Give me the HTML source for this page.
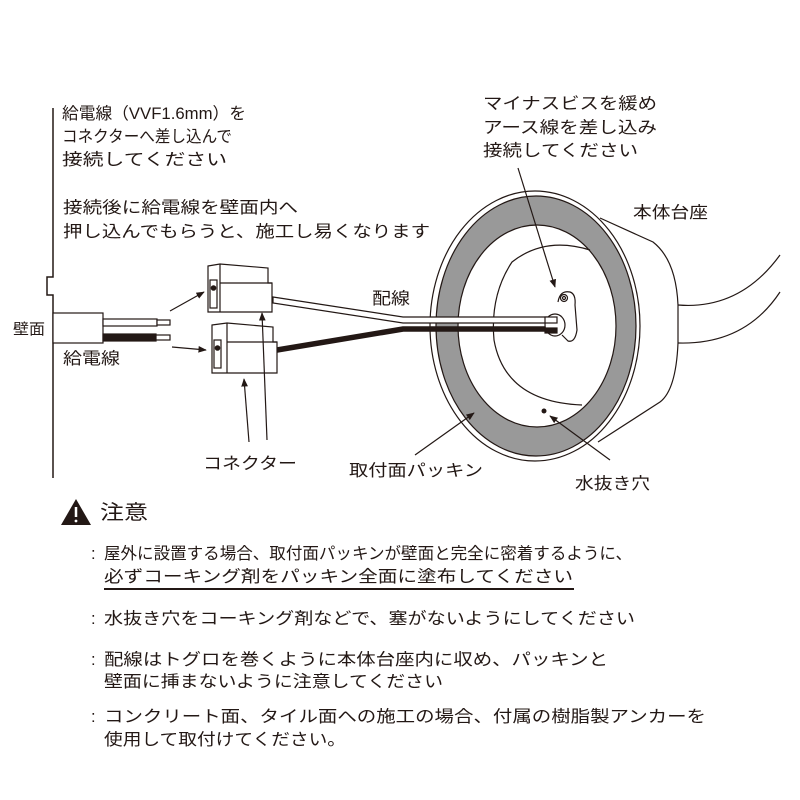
<!DOCTYPE html>
<html><head><meta charset="utf-8"><style>
html,body{margin:0;padding:0;background:#fff;}
svg{display:block;}
text{font-family:"Liberation Sans","Noto Sans CJK JP",sans-serif;fill:#231815;}
</style></head><body>
<svg width="800" height="800" viewBox="0 0 800 800" xmlns="http://www.w3.org/2000/svg">
<defs><marker id="ah" viewBox="0 0 10 10" refX="9" refY="5" markerWidth="7" markerHeight="7" orient="auto"><path d="M0,1 L10,5 L0,9 z" fill="#231815"/></marker></defs>
<g stroke="#231815" fill="none" stroke-width="1.2">
<path d="M53,108 V277 H47 V295 H53 V478" stroke-width="1.5"/>
<rect x="53" y="313" width="50" height="30" fill="#fff"/>
<rect x="103" y="319" width="54" height="7" fill="#fff"/>
<rect x="157" y="320" width="13" height="5" fill="#fff"/>
<rect x="103" y="334" width="53" height="7" fill="#231815"/>
<rect x="156" y="335" width="14" height="5" fill="#fff"/>
<path d="M600,218 L653,242 Q676,260 678,305 L678,343 Q676,390 660,402 L598,442" fill="#fff"/>
<path d="M678,305 Q740,310 780,255"/>
<path d="M678,343 Q745,345 780,292"/>
<ellipse cx="535" cy="326" rx="105" ry="135" fill="#fff"/>
<ellipse cx="536" cy="326" rx="100" ry="130" fill="#999"/>
<ellipse cx="537" cy="326" rx="79" ry="101" fill="#fff"/>
<path d="M590,250 Q545,236 512,262 Q490,295 494,340 Q505,402 582,405"/>
<path d="M273,297 L403,317 L560,317 L560,323 L403,323 L273,303 z" fill="#fff"/>
<path d="M277,350 L403,329 L558,329" stroke-width="5.5"/>
<path d="M558,302 Q560,290 570,292 Q576,294 575,305 L577,330 Q575,343 568,341 L562,335" fill="#fff"/>
<circle cx="564" cy="298" r="3.5" fill="#fff"/>
<circle cx="564" cy="298" r="1.5"/>
<ellipse cx="555" cy="325" rx="10" ry="11" fill="#fff"/>
<rect x="545" y="317" width="12" height="6" fill="#fff"/>
<rect x="545" y="328" width="12" height="5" fill="#231815"/>
<circle cx="544" cy="411" r="2.5" fill="#231815" stroke="none"/>
<path d="M208,266 L220,264 L268,268 L268,283 L272,283 L272,312 L208,312 z" fill="#fff"/>
<path d="M220,264 V312 M220,283 H272"/>
<rect x="210" y="280" width="7" height="28" fill="#fff"/>
<circle cx="213.5" cy="288" r="2.2" fill="#231815"/>
<path d="M212,325 L227,323 L273,327 L273,342 L277,342 L277,373 L212,373 z" fill="#fff"/>
<path d="M227,323 V373 M227,342 H277"/>
<rect x="214" y="340" width="7" height="28" fill="#fff"/>
<circle cx="217.5" cy="348" r="2.2" fill="#231815"/>
<g marker-end="url(#ah)" stroke-width="1.2">
<line x1="170" y1="311" x2="204" y2="292"/>
<line x1="172" y1="347" x2="206" y2="350"/>
<line x1="249" y1="442" x2="244" y2="379"/>
<line x1="267" y1="440" x2="262" y2="313"/>
<line x1="518" y1="168" x2="555" y2="287"/>
<line x1="415" y1="455" x2="474" y2="413"/>
<line x1="610" y1="460" x2="550" y2="416"/>
</g>
<line x1="104" y1="589" x2="574" y2="589" stroke-width="2"/>
</g>
<path d="M76,499 L91,525 L61,525 z" fill="#231815"/>
<path d="M76,507 L76,517" stroke="#fff" stroke-width="2.5"/>
<circle cx="76" cy="521" r="1.4" fill="#fff"/>
<g font-size="16.5">
<text x="62" y="119" textLength="184" lengthAdjust="spacingAndGlyphs">給電線（VVF1.6mm）を</text>
<text x="62" y="142" textLength="170" lengthAdjust="spacingAndGlyphs">コネクターへ差し込んで</text>
<text x="62" y="165" textLength="165" lengthAdjust="spacingAndGlyphs">接続してください</text>
<text x="483" y="109" textLength="174" lengthAdjust="spacingAndGlyphs">マイナスビスを緩め</text>
<text x="483" y="133" textLength="174" lengthAdjust="spacingAndGlyphs">アース線を差し込み</text>
<text x="483" y="156" textLength="155" lengthAdjust="spacingAndGlyphs">接続してください</text>
<text x="633" y="218" textLength="75" lengthAdjust="spacingAndGlyphs">本体台座</text>
<text x="63" y="213" textLength="235" lengthAdjust="spacingAndGlyphs">接続後に給電線を壁面内へ</text>
<text x="63" y="237" textLength="367" lengthAdjust="spacingAndGlyphs">押し込んでもらうと、施工し易くなります</text>
<text x="372" y="304" textLength="38" lengthAdjust="spacingAndGlyphs">配線</text>
<text x="13" y="334" font-size="15" textLength="32" lengthAdjust="spacingAndGlyphs">壁面</text>
<text x="63" y="364" textLength="57" lengthAdjust="spacingAndGlyphs">給電線</text>
<text x="203" y="469" textLength="94" lengthAdjust="spacingAndGlyphs">コネクター</text>
<text x="349" y="476" textLength="134" lengthAdjust="spacingAndGlyphs">取付面パッキン</text>
<text x="575" y="489" textLength="75" lengthAdjust="spacingAndGlyphs">水抜き穴</text>
<text x="100" y="519" font-size="20" textLength="48" lengthAdjust="spacingAndGlyphs">注意</text>
<text x="91" y="559">:</text><text x="104" y="559" textLength="528" lengthAdjust="spacingAndGlyphs">屋外に設置する場合、取付面パッキンが壁面と完全に密着するように、</text>
<text x="104" y="582" textLength="469" lengthAdjust="spacingAndGlyphs">必ずコーキング剤をパッキン全面に塗布してください</text>
<text x="91" y="624">:</text><text x="104" y="624" textLength="531" lengthAdjust="spacingAndGlyphs">水抜き穴をコーキング剤などで、塞がないようにしてください</text>
<text x="91" y="665">:</text><text x="104" y="665" textLength="504" lengthAdjust="spacingAndGlyphs">配線はトグロを巻くように本体台座内に収め、パッキンと</text>
<text x="104" y="687" textLength="339" lengthAdjust="spacingAndGlyphs">壁面に挿まないように注意してください</text>
<text x="91" y="722">:</text><text x="104" y="722" textLength="602" lengthAdjust="spacingAndGlyphs">コンクリート面、タイル面への施工の場合、付属の樹脂製アンカーを</text>
<text x="104" y="745" textLength="242" lengthAdjust="spacingAndGlyphs">使用して取付けてください。</text>
</g>
</svg>
</body></html>
